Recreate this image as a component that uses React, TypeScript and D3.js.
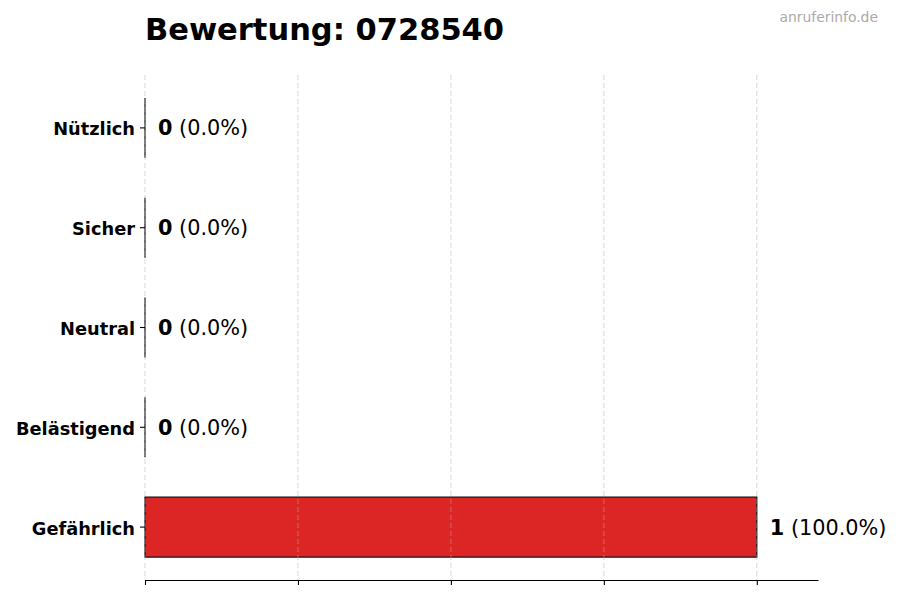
import React, { useEffect, useRef } from "react";
import * as d3 from "d3";

const categories: string[] = ["Nützlich", "Sicher", "Neutral", "Belästigend", "Gefährlich"];
const counts: number[] = [0, 0, 0, 0, 1];
const percents: number[] = [0.0, 0.0, 0.0, 0.0, 100.0];
const xTicks: number[] = [0, 0.25, 0.5, 0.75, 1.0];
const titleText = "Bewertung: 0728540";
const watermark = "anruferinfo.de";

const RatingChart: React.FC = () => {
  const svgRef = useRef<SVGSVGElement | null>(null);

  useEffect(() => {
    document.body.style.margin = "0";
    const svg = d3.select(svgRef.current);
    svg.selectAll("*").remove();

    const width = 900;
    const height = 600;
    const margin = { top: 75, right: 82, bottom: 20, left: 145 };
    const innerW = width - margin.left - margin.right;
    const innerH = height - margin.top - margin.bottom;
    const font = "'DejaVu Sans', sans-serif";

    svg.attr("width", width).attr("height", height).style("display", "block");

    // linear y like matplotlib barh: index 0 at bottom
    const n = categories.length;
    const y = d3
      .scaleLinear()
      .domain([-0.53, n - 1 + 0.53])
      .range([innerH, 0]);
    const x = d3.scaleLinear().domain([0, 1.1]).range([0, innerW]);
    const barH = y(0) - y(0.6);

    // first category at the top -> reverse order
    const rows = categories
      .map((c, i) => ({ name: c, count: counts[i], pct: percents[i] }))
      .reverse();

    const g = svg
      .append("g")
      .attr("transform", `translate(${margin.left}, ${margin.top})`);

    // bars (path so zero-width bars still show their edge)
    g.selectAll(".bar")
      .data(rows)
      .enter()
      .append("path")
      .attr("class", "bar")
      .attr("d", (d, i) => {
        const y0 = y(i) - barH / 2;
        const y1 = y(i) + barH / 2;
        return `M${x(0)},${y0}H${x(d.count)}V${y1}H${x(0)}Z`;
      })
      .attr("fill", "#dc2626")
      .attr("stroke", "#111")
      .attr("stroke-width", 1.2);

    // grid on top
    g.selectAll(".grid")
      .data(xTicks)
      .enter()
      .append("line")
      .attr("class", "grid")
      .attr("x1", (d) => x(d))
      .attr("x2", (d) => x(d))
      .attr("y1", 0)
      .attr("y2", innerH)
      .attr("stroke", "#b0b0b0")
      .attr("stroke-opacity", 0.5)
      .attr("stroke-width", 1)
      .attr("stroke-dasharray", "5,3");

    // bottom axis, no labels
    const xAxis = g
      .append("g")
      .attr("transform", `translate(0, ${innerH})`)
      .call(d3.axisBottom(x).tickValues(xTicks).tickSize(5).tickFormat(() => "").tickSizeOuter(0));
    xAxis.select(".domain").attr("stroke", "#000").attr("stroke-width", 1.1);
    xAxis.selectAll(".tick line").attr("stroke", "#000").attr("stroke-width", 1.1);

    // y tick marks + labels
    rows.forEach((d, i) => {
      g.append("line")
        .attr("x1", -5)
        .attr("x2", 0)
        .attr("y1", y(i))
        .attr("y2", y(i))
        .attr("stroke", "#000")
        .attr("stroke-width", 1.1);
      g.append("text")
        .attr("x", -10)
        .attr("y", y(i) + 1)
        .attr("text-anchor", "end")
        .attr("dominant-baseline", "central")
        .attr("font-family", font)
        .attr("font-weight", "bold")
        .attr("font-size", "17.8px")
        .attr("fill", "#000")
        .text(d.name);

      const label = g
        .append("text")
        .attr("x", x(d.count) + 13)
        .attr("y", y(i) + 0.5)
        .attr("dominant-baseline", "central")
        .attr("font-family", font)
        .attr("font-size", "20.8px")
        .attr("fill", "#000");
      label.append("tspan").attr("font-weight", "bold").text(String(d.count));
      label.append("tspan").text(` (${d.pct.toFixed(1)}%)`);
    });

    // title
    svg
      .append("text")
      .attr("x", margin.left)
      .attr("y", 40)
      .attr("font-family", font)
      .attr("font-weight", "bold")
      .attr("font-size", "30.5px")
      .attr("fill", "#000")
      .text(titleText);

    // watermark
    svg
      .append("text")
      .attr("x", 878)
      .attr("y", 22)
      .attr("text-anchor", "end")
      .attr("font-family", font)
      .attr("font-size", "13.9px")
      .attr("fill", "#aaaaaa")
      .text(watermark);
  }, []);

  return <svg ref={svgRef}></svg>;
};

export default function App() {
  return <RatingChart />;
}
